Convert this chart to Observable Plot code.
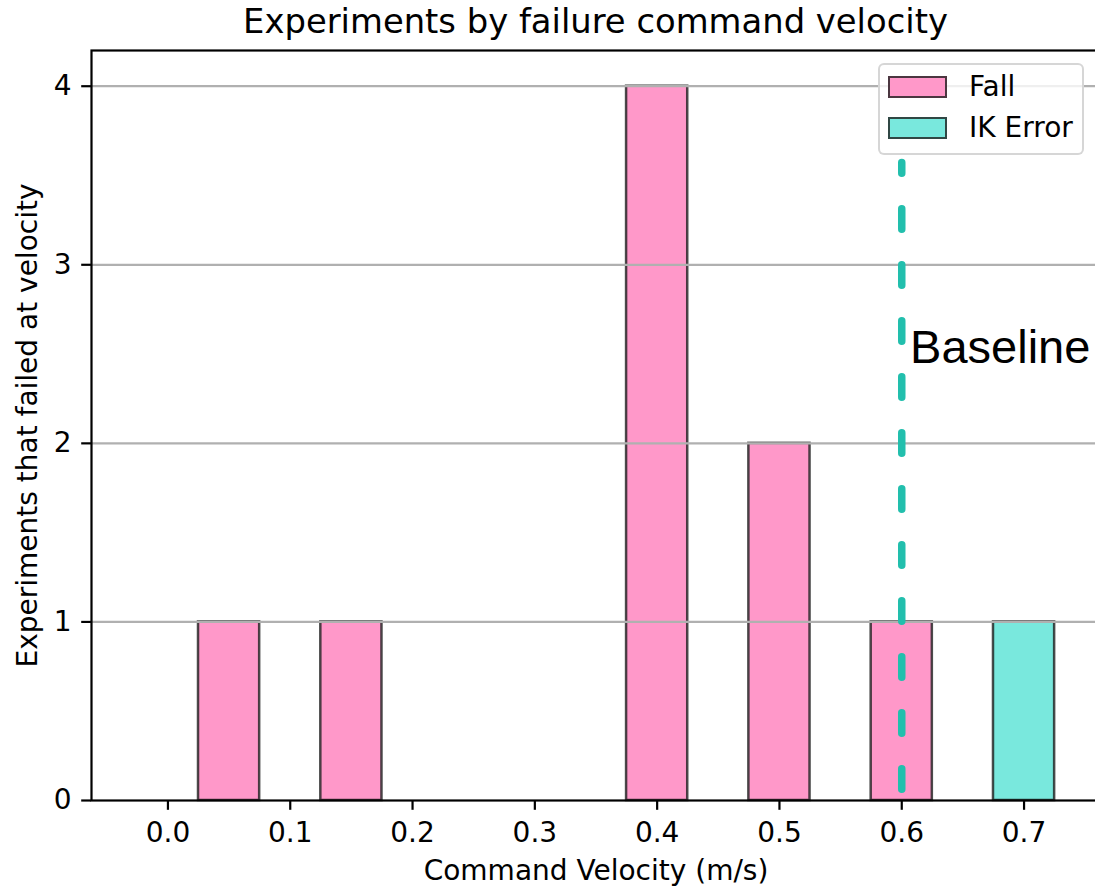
<!DOCTYPE html>
<html>
<head>
<meta charset="utf-8">
<script src="https://cdn.jsdelivr.net/npm/d3@7"></script>
<script src="https://cdn.jsdelivr.net/npm/@observablehq/plot@0.6"></script>
<style>
  html, body { margin: 0; padding: 0; background: #fff; overflow: hidden; }
  #wrap { position: relative; width: 1095px; height: 887px; overflow: hidden; font-family: "DejaVu Sans", sans-serif; color: #000; }
  #title { position: absolute; left: 91px; width: 1009px; top: 0; text-align: center; font-size: 33.8px; line-height: 1; padding-top: 5px; white-space: nowrap; }
  #chart { position: absolute; left: 0; top: 46px; width: 1100px; }
  #chart svg { max-width: none !important; }
  #legend { position: absolute; left: 878px; top: 63px; width: 202px; height: 88px; border: 2px solid rgba(210,210,210,0.9); border-radius: 6px; background: rgba(255,255,255,0.8); }
  .patch { position: absolute; left: 8px; width: 59px; height: 22px; box-sizing: border-box; border: 2.4px solid rgba(30,30,30,0.8); }
  .ltext { position: absolute; left: 89px; font-size: 28px; line-height: 1; white-space: nowrap; }
</style>
</head>
<body>
<div id="wrap">
  <div id="chart"></div>
  <div id="title"></div>
  <div id="legend"></div>
</div>
<script>
// ---- data ----
const titleText = "Experiments by failure command velocity";
const xLabelText = "Command Velocity (m/s)";
const yLabelText = "Experiments that failed at velocity";
const velocities = [0.0, 0.05, 0.15, 0.2, 0.25, 0.3, 0.35, 0.4, 0.5, 0.6, 0.7];
const fallCounts = [0, 1, 1, 0, 0, 0, 0, 4, 2, 1, 0];
const ikCounts   = [0, 0, 0, 0, 0, 0, 0, 0, 0, 0, 1];
const seriesNames = ["Fall", "IK Error"];
const seriesColors = ["#ff98c9", "#79e8dd"];
const xTicks = [0.0, 0.1, 0.2, 0.3, 0.4, 0.5, 0.6, 0.7];
const yTicks = [0, 1, 2, 3, 4];
const barWidth = 0.05;
const baselineVelocity = 0.6;
const baselineTop = 3.57;        // 85% of the y axis height
const baselineLabel = "Baseline";
const baselineLabelX = 0.6068;
const baselineLabelY = 2.45;

// ---- tables built from the arrays ----
const fallRows = velocities.map((v, i) => ({v, c: fallCounts[i], ik: ikCounts[i]})).filter(d => d.ik === 0);
const ikRows = velocities.map((v, i) => ({v, c: ikCounts[i]})).filter(d => d.c > 0);

document.getElementById("title").textContent = titleText;

const chart = Plot.plot({
  width: 1100,
  height: 841,
  marginTop: 4,
  marginBottom: 87,
  marginLeft: 91,
  marginRight: 0,
  style: { fontFamily: "DejaVu Sans", fontSize: "28px", color: "black", background: "white", overflow: "visible", maxWidth: "none" },
  x: { domain: [-0.0625, 0.7625] },
  y: { domain: [0, 4.2] },
  marks: [
    Plot.rectY(fallRows, {
      x1: d => d.v - barWidth / 2, x2: d => d.v + barWidth / 2, y1: 0, y2: "c",
      fill: seriesColors[0], stroke: "#1e1e1e", strokeOpacity: 0.8, strokeWidth: 2.5
    }),
    Plot.rectY(ikRows, {
      x1: d => d.v - barWidth / 2, x2: d => d.v + barWidth / 2, y1: 0, y2: "c",
      fill: seriesColors[1], stroke: "#1e1e1e", strokeOpacity: 0.8, strokeWidth: 2.5
    }),
    Plot.gridY(yTicks.filter(t => t > 0), { stroke: "#b0b0b0", strokeOpacity: 1, strokeWidth: 2.2 }),
    Plot.ruleX([baselineVelocity], {
      y1: 0, y2: baselineTop, stroke: "#22bfad", strokeWidth: 7.5,
      strokeDasharray: "20.5,35.5", strokeDashoffset: 45.25, strokeLinecap: "round"
    }),
    Plot.text([baselineLabel], {
      x: baselineLabelX, y: baselineLabelY, text: d => d, textAnchor: "start", lineAnchor: "bottom",
      fontFamily: "Liberation Sans, Arial, sans-serif", fontSize: 47, fill: "black"
    }),
    Plot.frame({ stroke: "black", strokeWidth: 2.2 }),
    Plot.axisX(xTicks, {
      tickFormat: d3.format(".1f"), tickSize: 9.8, tickPadding: 12, fontSize: 28,
      strokeWidth: 2.2, label: null
    }),
    Plot.axisY(yTicks, {
      tickFormat: d3.format("d"), tickSize: 9.8, tickPadding: 10, fontSize: 28,
      strokeWidth: 2.2, label: null
    }),
    Plot.text([xLabelText], {
      frameAnchor: "bottom", text: d => d, lineAnchor: "bottom", dy: 79, fontSize: 28
    }),
    Plot.text([yLabelText], {
      frameAnchor: "left", text: d => d, rotate: -90, textAnchor: "middle", lineAnchor: "middle",
      dx: -63.3, fontSize: 28
    })
  ]
});
document.getElementById("chart").appendChild(chart);

// ---- legend ----
const legend = document.getElementById("legend");
const patchTops = [11, 52];
const textTops = [8, 49];
seriesNames.forEach((name, i) => {
  const p = document.createElement("div");
  p.className = "patch";
  p.style.top = patchTops[i] + "px";
  p.style.background = seriesColors[i];
  legend.appendChild(p);
  const t = document.createElement("div");
  t.className = "ltext";
  t.style.top = textTops[i] + "px";
  t.textContent = name;
  legend.appendChild(t);
});
</script>
</body>
</html>
